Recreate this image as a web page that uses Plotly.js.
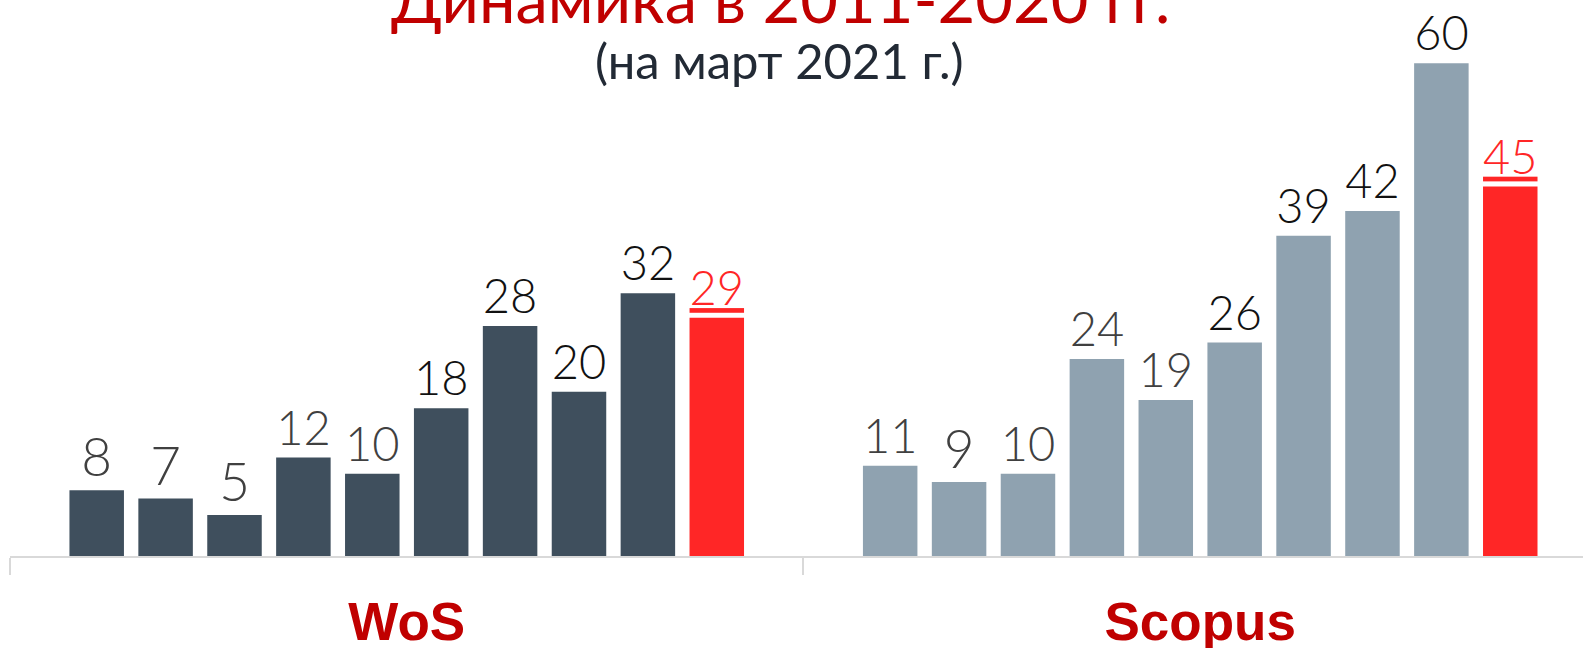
<!DOCTYPE html>
<html>
<head>
<meta charset="utf-8">
<script src="https://cdn.plot.ly/plotly-3.0.1.min.js"></script>
<style>html,body{margin:0;padding:0;background:#fff;}#chart{width:1583px;height:648px;}</style>
</head>
<body>
<div id="chart"></div>
<script>
// ---- data ----
const categories = ['WoS', 'Scopus'];
const years = ['2011','2012','2013','2014','2015','2016','2017','2018','2019','2020'];
const wosValues = [8, 7, 5, 12, 10, 18, 28, 20, 32, 29];
const scopusValues = [11, 9, 10, 24, 19, 26, 39, 42, 60, 45];
const titleText = 'Динамика в 2011-2020 гг.';
const subtitleText = '(на март 2021 г.)';

// ---- styles ----
const wosColor = '#3F4F5D';
const scopusColor = '#8FA2B0';
const highlightColor = '#FF2626';
const darkRed = '#C00000';
function labelColor(i) {
  if (i === years.length - 1) return highlightColor;
  return i < 5 ? '#404040' : '#111111';
}

const traces = years.map((yr, i) => {
  const last = i === years.length - 1;
  const vals = [wosValues[i], scopusValues[i]];
  return {
    type: 'bar',
    name: yr,
    x: categories,
    y: vals,
    text: vals.map(v => last ? '<u>' + v + '</u>' : String(v)),
    textposition: 'outside',
    cliponaxis: false,
    textfont: {family: 'Lato, "Open Sans", sans-serif', size: 53, weight: 300, color: labelColor(i)},
    marker: {color: last ? [highlightColor, highlightColor] : [wosColor, scopusColor], line: {width: 0}},
    hoverinfo: 'x+y+name'
  };
});

const layout = {
  width: 1583,
  height: 648,
  margin: {l: 10, r: 0, t: 0, b: 92},
  paper_bgcolor: '#ffffff',
  plot_bgcolor: '#ffffff',
  showlegend: false,
  barmode: 'group',
  bargap: 0.1317,
  bargroupgap: 0.209,
  title: {
    text: titleText,
    font: {family: 'Lato, "Open Sans", sans-serif', size: 65, color: darkRed},
    x: 0.49, xanchor: 'center', xref: 'paper',
    y: 1, yanchor: 'middle', yref: 'container'
  },
  annotations: [{
    text: subtitleText,
    xref: 'paper', yref: 'paper', x: 0.4895, y: 1, xanchor: 'center', yanchor: 'middle',
    yshift: -60, showarrow: false,
    font: {family: 'Lato, "Open Sans", sans-serif', size: 49, color: '#222A35'}
  }],
  xaxis: {
    type: 'category',
    range: [-0.5, 1.4824],
    showline: true, linecolor: '#D9D9D9', linewidth: 2,
    ticks: 'outside', ticklen: 17, tickcolor: '#D9D9D9', tickwidth: 2,
    tickson: 'boundaries',
    ticklabelstandoff: 18,
    tickfont: {family: '"Liberation Sans", Arial, sans-serif', size: 53, weight: 'bold', color: darkRed},
    showgrid: false, zeroline: false, fixedrange: true
  },
  yaxis: {
    range: [0, 67.7],
    visible: false, showgrid: false, zeroline: false, fixedrange: true
  }
};

Plotly.newPlot('chart', traces, layout, {displayModeBar: false, responsive: false});
</script>
</body>
</html>
